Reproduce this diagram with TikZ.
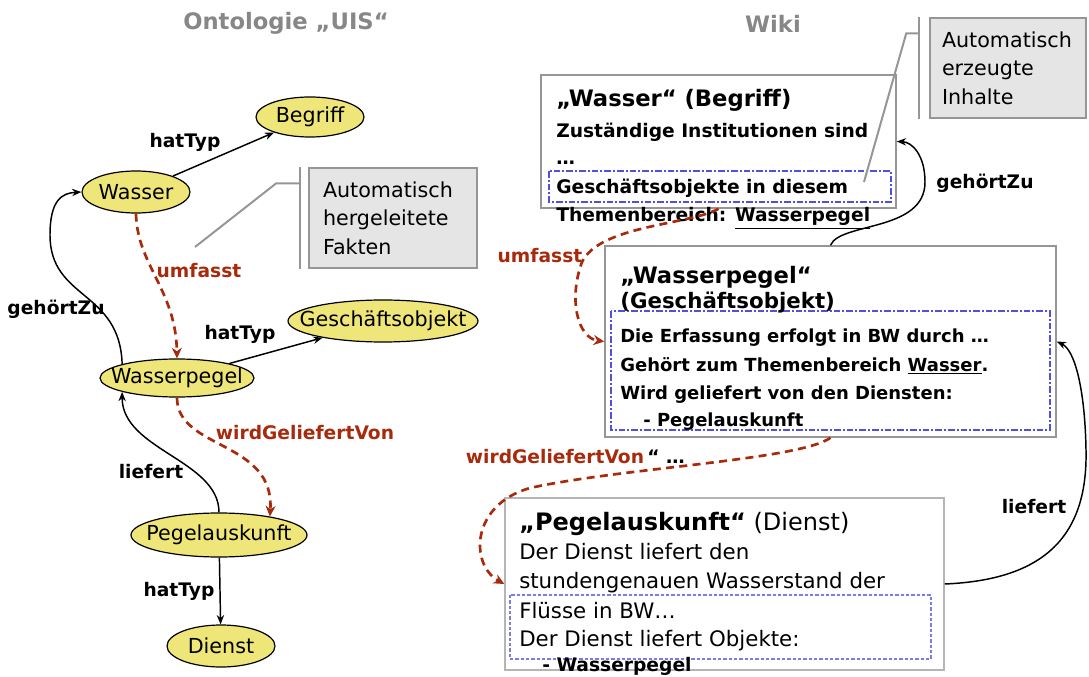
\documentclass[tikz,border=0pt]{standalone}
\usepackage{fontspec}
\setmainfont{DejaVu Sans}
\usetikzlibrary{shapes.geometric,arrows.meta}
\definecolor{conceptfill}{RGB}{238,230,120}
\definecolor{derivedred}{RGB}{168,42,12}
\definecolor{fieldblue}{RGB}{80,80,220}
\definecolor{notefill}{RGB}{229,229,229}
\definecolor{notegray}{RGB}{150,150,150}
\definecolor{titlegray}{RGB}{135,135,135}
\newcommand\ctlabel[1]{\makebox[0pt]{#1}}
\tikzset{
  concept/.style={ellipse,draw,line width=0.9pt,fill=conceptfill,inner sep=0pt,
    font=\fontsize{15.5}{18}\selectfont},
  rel/.style={inner sep=0pt,font=\bfseries\fontsize{14}{16}\selectfont},
  derivedrel/.style={rel,text=derivedred},
  link/.style={line width=1.1pt,-{Stealth[length=7pt,width=5.5pt]}},
  derivedlink/.style={derivedred,line width=2pt,dash pattern=on 6pt off 4pt,
    -{Stealth[length=8pt,width=7.5pt]}},
  wikibox/.style={draw=notegray,line width=1.1pt,fill=white,inner sep=0pt},
  field/.style={fieldblue,line width=1pt,dash pattern=on 5pt off 1.5pt on 1.5pt off 1.5pt},
  note/.style={draw=notegray,line width=1.1pt,fill=notefill,align=left,
    font=\fontsize{15.5}{21.5}\selectfont},
  leader/.style={notegray,line width=1.5pt},
  wikiline/.style={anchor=base west,inner sep=0pt},
  pagetitle/.style={text=titlegray,font=\bfseries\fontsize{17}{20}\selectfont}
}
\begin{document}
\begin{tikzpicture}[x=0.75pt,y=-0.75pt]
\useasboundingbox (0,0) rectangle (1089,677);

% ontology side
\node[pagetitle] (ontoTitle) at (286,23) {Ontologie „UIS“};
\node[concept,minimum width=81pt,minimum height=30pt] (begriff) at (310,117) {\ctlabel{Begriff}};
\node[concept,minimum width=81pt,minimum height=31.5pt] (wasser) at (136,192) {\ctlabel{Wasser}};
\node[concept,minimum width=142.5pt,minimum height=31.5pt] (geschaeft) at (383,321) {\ctlabel{Geschäftsobjekt}};
\node[concept,minimum width=115.5pt,minimum height=28.5pt] (wasserpegel) at (177,378) {\ctlabel{Wasserpegel}};
\node[concept,minimum width=132pt,minimum height=33pt] (pegel) at (219,535) {\ctlabel{Pegelauskunft}};
\node[concept,minimum width=81pt,minimum height=31.5pt] (dienst) at (221,646) {\ctlabel{Dienst}};

\draw[link] (wasser) -- (begriff);
\draw[link] (wasserpegel) -- (geschaeft);
\draw[link] (pegel) -- (dienst);
\draw[link] (wasserpegel.north west) .. controls (120,290) and (50,300) .. (50,235)
  .. controls (50,200) and (62,193) .. (wasser.west);
\draw[link] (pegel.north) .. controls (219,460) and (122,450) .. (wasserpegel.south west);
\draw[derivedlink] (wasser.south) .. controls (137,265) and (176,290) .. (wasserpegel.north);
\draw[derivedlink] (wasserpegel.south) .. controls (177,450) and (275,440) .. (pegel.20);

\node[rel] (hatTypA) at (185,142) {hatTyp};
\node[derivedrel] (umfasstOnto) at (199,271) {umfasst};
\node[rel] (gehoertOnto) at (56,309) {gehörtZu};
\node[rel] (hatTypB) at (240,334) {hatTyp};
\node[derivedrel] (gelOnto) at (305,433) {wirdGeliefertVon};
\node[rel] (liefertOnto) at (151,472) {liefert};
\node[rel] (hatTypC) at (179,591) {hatTyp};

\node[note,minimum width=126pt,minimum height=75pt,text width=105pt,inner xsep=10.5pt] (ontoNote) at (393,218)
  {Automatisch\\hergeleitete\\Fakten};
\coordinate (ontoHint) at (195,247);
\draw[leader] ([xshift=-6pt]ontoNote.north west) -- ([xshift=-6pt]ontoNote.south west);
\draw[leader] ([xshift=-6pt,yshift=-12pt]ontoNote.north west) -- ++(-24,0) -- (ontoHint);

% wiki side
\node[pagetitle] (wikiTitle) at (773,24) {Wiki};
\node[wikibox,minimum width=266.25pt,minimum height=99.75pt] (wikiBegriff) at (718.5,141.5) {};
\node[wikibox,minimum width=338.25pt,minimum height=143.25pt] (wikiPegel) at (830.5,341.5) {};
\node[wikibox,minimum width=329.25pt,minimum height=129pt,draw=notegray!70] (wikiDienst) at (724.5,584) {};

\draw[field] (549,171) rectangle (891,202);
\draw[field] (611,311) rectangle (1050,430);
\draw[field,fieldblue!75,line width=0.8pt,dash pattern=on 2.5pt off 1.5pt] (510,595) rectangle (931,659);

\node[wikiline,font=\bfseries\fontsize{17}{20}\selectfont] (wbTitle) at (556,107) {„Wasser“ (Begriff)};
\foreach \y/\txt [count=\i] in {138/Zuständige Institutionen sind,165/\ldots,
    194/Geschäftsobjekte in diesem,222/Themenbereich: \underline{Wasserpegel}}
  \node[wikiline,font=\bfseries\fontsize{14}{16}\selectfont] (wbLine\i) at (556,\y) {\txt};

\node[wikiline,font=\bfseries\fontsize{17}{20}\selectfont] (wpTitle) at (620,284) {„Wasserpegel“};
\node[wikiline,font=\bfseries\fontsize{16}{20}\selectfont] (wpType) at (620,309) {(Geschäftsobjekt)};
\foreach \y/\txt [count=\i] in {343/Die Erfassung erfolgt in BW durch \ldots,
    371/Gehört zum Themenbereich \underline{Wasser}.,399/Wird geliefert von den Diensten:}
  \node[wikiline,font=\bfseries\fontsize{13.5}{16}\selectfont] (wpLine\i) at (620,\y) {\txt};
\node[wikiline,font=\bfseries\fontsize{13.5}{16}\selectfont] (wpLine4) at (643,426) {- Pegelauskunft};

\node[wikiline,font=\fontsize{18}{22}\selectfont] (wdTitle) at (519,530) {\textbf{„Pegelauskunft“} (Dienst)};
\foreach \y/\txt [count=\i] in {559/Der Dienst liefert den,588/stundengenauen Wasserstand der,
    618/Flüsse in BW\ldots,646/Der Dienst liefert Objekte:}
  \node[wikiline,font=\fontsize{16}{19}\selectfont] (wdLine\i) at (519,\y) {\txt};
\node[wikiline,font=\bfseries\fontsize{14}{16}\selectfont] (wdLine5) at (542,671) {- Wasserpegel};

\node[note,minimum width=117pt,minimum height=75pt,text width=99pt,inner xsep=9pt] (wikiNote) at (1008,68)
  {Automatisch\\erzeugte\\Inhalte};
\coordinate (wikiHint) at (864,182);
\draw[leader] ([xshift=-7.5pt]wikiNote.north west) -- ([xshift=-7.5pt]wikiNote.south west);
\draw[leader] ([xshift=-7.5pt,yshift=-12pt]wikiNote.north west) -- ++(-13,0) -- (wikiHint);

\draw[link] (wikiPegel.north) .. controls (840,222) and (925,232) .. (925,182)
  .. controls (925,155) and (912,142) .. (wikiBegriff.east);
\draw[derivedlink] (wikiBegriff.south) .. controls (690,225) and (600,225) .. (582,262)
  .. controls (568,300) and (578,338) .. (wikiPegel.west);
\draw[derivedlink] (wikiPegel.south) .. controls (800,460) and (620,468) .. (530,488)
  .. controls (470,505) and (470,565) .. (wikiDienst.west);
\draw[link] (wikiDienst.east) .. controls (1040,580) and (1088,540) .. (1086,450)
  .. controls (1085,390) and (1075,350) .. (wikiPegel.east);

\node[derivedrel] (umfasstWiki) at (540,256) {umfasst};
\node[rel] (gehoertWiki) at (985,183) {gehörtZu};
\node[derivedrel] (gelWiki) at (555,457) {wirdGeliefertVon};
\node[rel,anchor=west] (gelRest) at ([xshift=2pt]gelWiki.east) {“ \ldots};
\node[rel] (liefertWiki) at (1034,507) {liefert};
\end{tikzpicture}
\end{document}
